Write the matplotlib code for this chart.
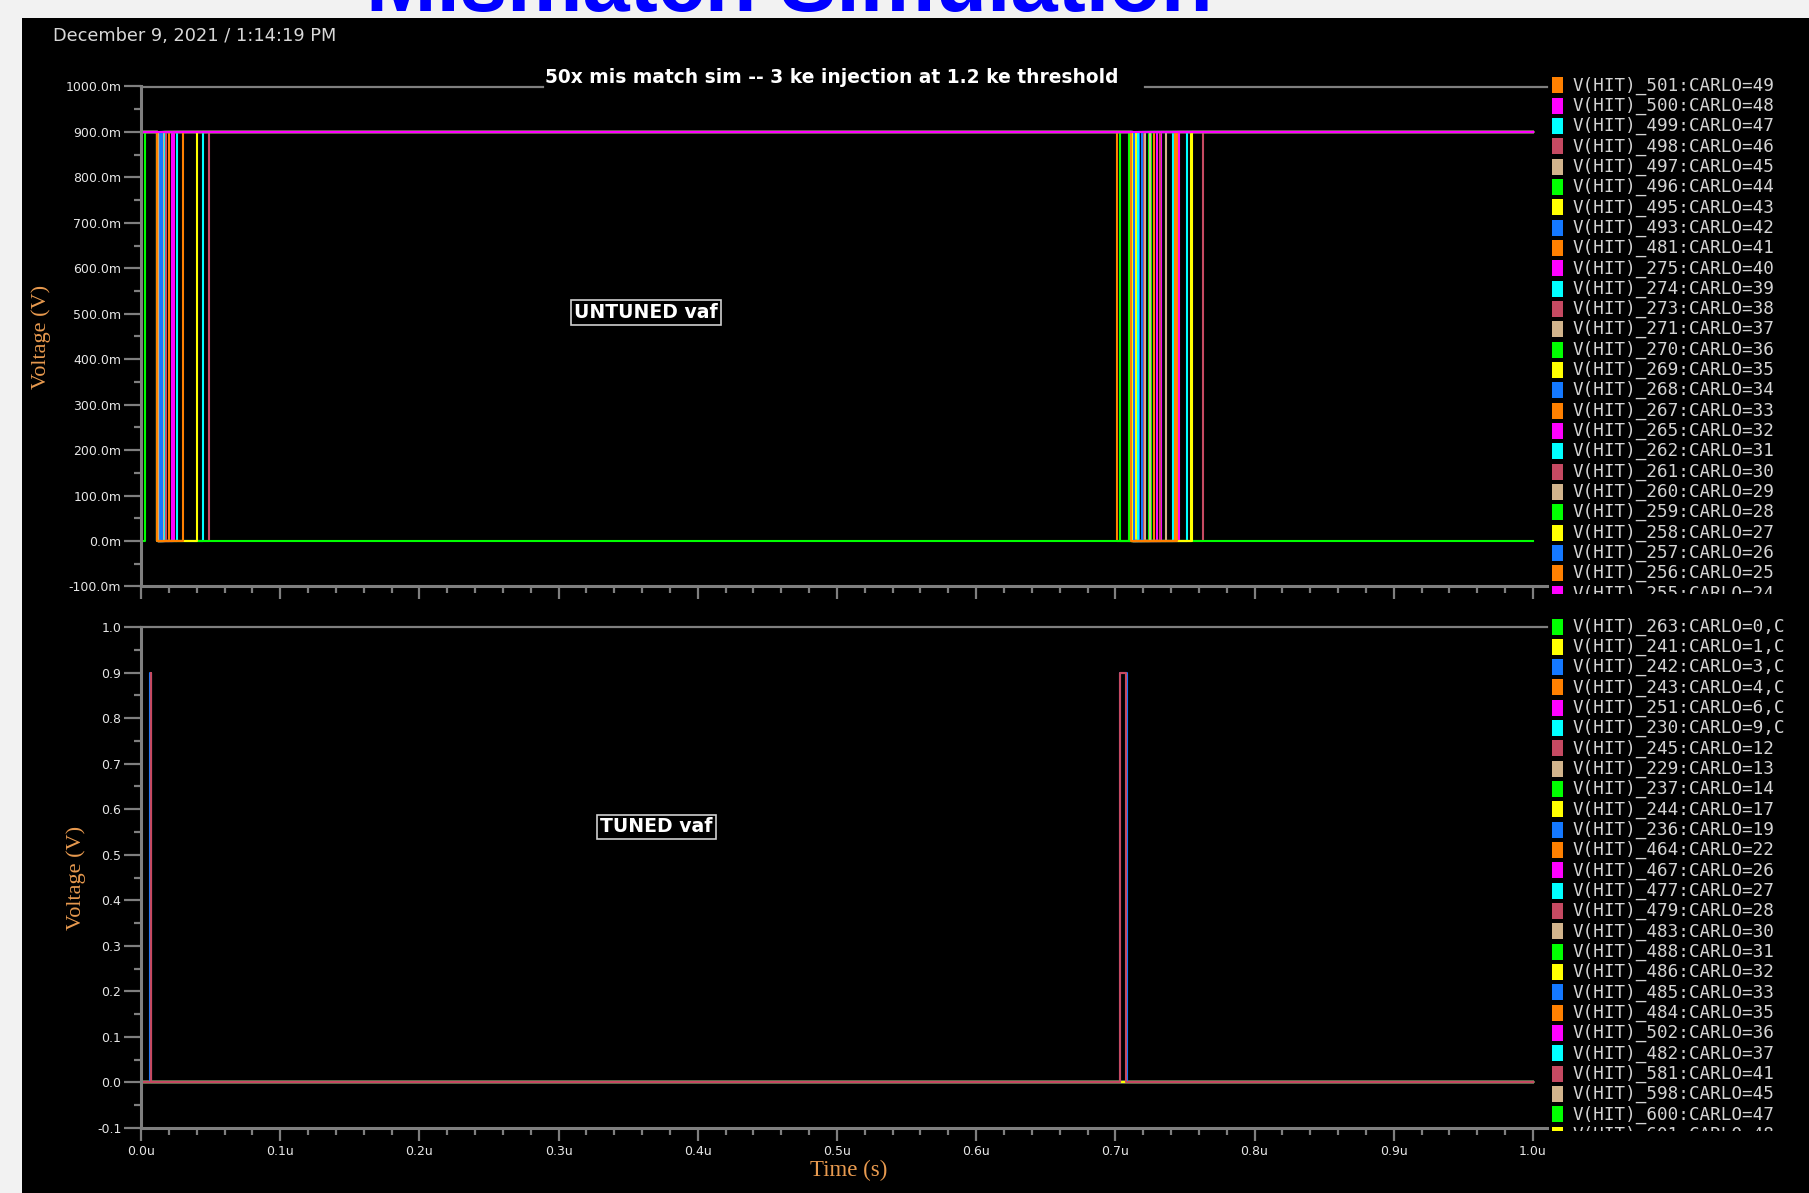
import matplotlib.pyplot as plt
from matplotlib.patches import Rectangle
from matplotlib.transforms import Bbox, TransformedBbox
from matplotlib.ticker import MultipleLocator, FuncFormatter

W, H = 1809, 1193
DPI = 100

# HIT output logic levels (V)
V_LO, V_HI = 0.0, 0.9

# trace colours, in the order the simulator cycles through them
palette = ['#00ff00', '#ffff00', '#1478ff', '#ff8000',
           '#ff00ff', '#00ffff', '#c64a62', '#d2b48c']

# --- untuned vaf: 50 Monte Carlo runs (only the listed ones are shown) ---
untuned_names = [
    'V(HIT)_501:CARLO=49', 'V(HIT)_500:CARLO=48', 'V(HIT)_499:CARLO=47',
    'V(HIT)_498:CARLO=46', 'V(HIT)_497:CARLO=45', 'V(HIT)_496:CARLO=44',
    'V(HIT)_495:CARLO=43', 'V(HIT)_493:CARLO=42', 'V(HIT)_481:CARLO=41',
    'V(HIT)_275:CARLO=40', 'V(HIT)_274:CARLO=39', 'V(HIT)_273:CARLO=38',
    'V(HIT)_271:CARLO=37', 'V(HIT)_270:CARLO=36', 'V(HIT)_269:CARLO=35',
    'V(HIT)_268:CARLO=34', 'V(HIT)_267:CARLO=33', 'V(HIT)_265:CARLO=32',
    'V(HIT)_262:CARLO=31', 'V(HIT)_261:CARLO=30', 'V(HIT)_260:CARLO=29',
    'V(HIT)_259:CARLO=28', 'V(HIT)_258:CARLO=27', 'V(HIT)_257:CARLO=26',
    'V(HIT)_256:CARLO=25', 'V(HIT)_255:CARLO=24',
]
untuned_start = [V_HI] * 13 + [V_LO] + [V_HI] * 12
# switching edges of each run (us)
untuned_edges = [
    [0.0118, 0.0201, 0.7110, 0.7277],
    [0.0120, 0.0223, 0.7125, 0.7300],
    [0.0122, 0.0259, 0.7130, 0.7414],
    [0.0120, 0.0489, 0.7120, 0.7630],
    [0.0125, 0.0150, 0.7115, 0.7213],
    [0.0118, 0.0158, 0.7100, 0.7256],
    [0.0121, 0.0165, 0.7112, 0.7150],
    [0.0119, 0.0140, 0.7130, 0.7190],
    [0.0123, 0.0160, 0.7010, 0.7130],
    [0.0120, 0.0237, 0.7118, 0.7330],
    [0.0121, 0.0445, 0.7122, 0.7514],
    [0.0119, 0.0170, 0.7118, 0.7200],
    [0.0124, 0.0145, 0.7120, 0.7363],
    [0.0029, 0.7033, 0.7240],
    [0.0120, 0.0172, 0.7115, 0.7540],
    [0.0118, 0.0135, 0.7128, 0.7170],
    [0.0122, 0.0168, 0.7125, 0.7430],
    [0.0121, 0.0230, 0.7120, 0.7460],
    [0.0119, 0.0162, 0.7130, 0.7160],
    [0.0120, 0.0180, 0.7123, 0.7320],
    [0.0122, 0.0155, 0.7127, 0.7250],
    [0.0115],
    [0.0117, 0.0402, 0.7126, 0.7550],
    [0.0116, 0.0148, 0.7131, 0.7190],
    [0.0115, 0.0302, 0.7110, 0.7445],
    [],
]

# --- tuned vaf ---
tuned_names = [
    'V(HIT)_263:CARLO=0,C', 'V(HIT)_241:CARLO=1,C', 'V(HIT)_242:CARLO=3,C',
    'V(HIT)_243:CARLO=4,C', 'V(HIT)_251:CARLO=6,C', 'V(HIT)_230:CARLO=9,C',
    'V(HIT)_245:CARLO=12', 'V(HIT)_229:CARLO=13', 'V(HIT)_237:CARLO=14',
    'V(HIT)_244:CARLO=17', 'V(HIT)_236:CARLO=19', 'V(HIT)_464:CARLO=22',
    'V(HIT)_467:CARLO=26', 'V(HIT)_477:CARLO=27', 'V(HIT)_479:CARLO=28',
    'V(HIT)_483:CARLO=30', 'V(HIT)_488:CARLO=31', 'V(HIT)_486:CARLO=32',
    'V(HIT)_485:CARLO=33', 'V(HIT)_484:CARLO=35', 'V(HIT)_502:CARLO=36',
    'V(HIT)_482:CARLO=37', 'V(HIT)_581:CARLO=41', 'V(HIT)_598:CARLO=45',
    'V(HIT)_600:CARLO=47', 'V(HIT)_601:CARLO=48',
]
tuned_start = [V_LO] * 26
tuned_edges = [[] for _ in tuned_names]
tuned_edges[18] = [0.0068, 0.0071, 0.7030, 0.7085]   # 485
tuned_edges[22] = [0.0069, 0.0071, 0.7035, 0.7078]   # 581

T_END = 1.0


def step_trace(start, edges):
    t, v = [0.0], [start]
    level = start
    for e in edges:
        t.append(e)
        v.append(level)
        level = V_HI if level == V_LO else V_LO
        t.append(e)
        v.append(level)
    t.append(T_END)
    v.append(level)
    return t, v


def cycle_colors(n, offset):
    return [palette[(i + offset) % len(palette)] for i in range(n)]


untuned_colors = cycle_colors(len(untuned_names), 3)
tuned_colors = cycle_colors(len(tuned_names), 0)

plt.rcParams['font.family'] = 'DejaVu Sans'
fig = plt.figure(figsize=(W / DPI, H / DPI), dpi=DPI, facecolor='#f2f2f2')

# black plot window
fig.add_artist(Rectangle((22 / W, 0), 1 - 22 / W, 1 - 18 / H,
                         transform=fig.transFigure, facecolor='black',
                         edgecolor='none', zorder=-5))

fig.text(366 / W, 1 - 10.7 / H, 'Mismatch Simulation', fontsize=61,
         fontweight='bold', color='#0000ff', family='Liberation Sans',
         ha='left', va='baseline')
fig.text(53 / W, 1 - 36 / H, 'December 9, 2021 / 1:14:19 PM', fontsize=12.8,
         color='#d8d8d8', va='center')

ax_top = fig.add_axes([141 / W, 1 - 586.5 / H, 1406 / W, 500 / H])
ax_bot = fig.add_axes([141 / W, 1 - 1128 / H, 1406 / W, 501 / H])

GRAY = '#7f7f7f'
LABEL_ORANGE = '#e89a4f'


def style_axes(ax, ylabels, xlabels):
    ax.set_facecolor('black')
    ax.spines['top'].set_visible(False)
    ax.spines['right'].set_visible(False)
    for s in ('left', 'bottom'):
        ax.spines[s].set_color(GRAY)
        ax.spines[s].set_linewidth(2.2)
    ax.set_xlim(0, 1.0101)
    ax.set_ylim(-0.1, 1.0)
    ax.xaxis.set_major_locator(MultipleLocator(0.1))
    ax.xaxis.set_minor_locator(MultipleLocator(0.02))
    ax.yaxis.set_major_locator(MultipleLocator(0.1))
    ax.yaxis.set_minor_locator(MultipleLocator(0.05))
    ax.tick_params(axis='both', which='both', color=GRAY, width=1.6,
                   direction='out', labelcolor='#e6e6e6', labelsize=9)
    ax.tick_params(axis='y', which='major', length=12.2, pad=2)
    ax.tick_params(axis='y', which='minor', length=5)
    ax.tick_params(axis='x', which='major', length=9.5, pad=3)
    ax.tick_params(axis='x', which='minor', length=5)
    ax.yaxis.set_major_formatter(FuncFormatter(ylabels))
    if xlabels:
        ax.xaxis.set_major_formatter(
            FuncFormatter(lambda v, p: f'{round(v, 1) + 0:.1f}u'))
    else:
        ax.tick_params(axis='x', labelbottom=False)


style_axes(ax_top, lambda v, p: f'{round(v * 1000, 1) + 0:.1f}m', False)
style_axes(ax_bot, lambda v, p: f'{round(v, 1) + 0:.1f}', True)

# top border lines (the upper one is broken for the title)
ax_top.plot([0, 0.2859], [1, 1], transform=ax_top.transAxes, color=GRAY,
            lw=1.6, clip_on=False)
ax_top.plot([0.7141, 1], [1, 1], transform=ax_top.transAxes, color=GRAY,
            lw=1.6, clip_on=False)
ax_bot.plot([0, 1], [1, 1], transform=ax_bot.transAxes, color=GRAY,
            lw=1.6, clip_on=False)

ax_top.text(0.4915, 1.0176, '50x mis match sim -- 3 ke injection at 1.2 ke threshold',
            transform=ax_top.transAxes, ha='center', va='center',
            color='white', fontweight='bold', fontsize=13.4)

# traces
for i in range(len(untuned_names)):
    t, v = step_trace(untuned_start[i], untuned_edges[i])
    ax_top.plot(t, v, color=untuned_colors[i], lw=1.5)

order = sorted(range(len(tuned_names)), key=lambda i: len(tuned_edges[i]) > 0)
for i in order:
    t, v = step_trace(tuned_start[i], tuned_edges[i])
    ax_bot.plot(t, v, color=tuned_colors[i], lw=1.5)

box = dict(boxstyle='square,pad=0.15', facecolor='black', edgecolor='#cfcfcf',
           linewidth=1.2)
ax_top.text(0.3592, 0.5478, 'UNTUNED vaf', transform=ax_top.transAxes,
            ha='center', va='center', color='white', fontweight='bold',
            fontsize=13.6, bbox=box)
ax_bot.text(0.3666, 0.6008, 'TUNED vaf', transform=ax_bot.transAxes,
            ha='center', va='center', color='white', fontweight='bold',
            fontsize=13.6, bbox=box)

for ax, xl in ((ax_top, -0.0711), (ax_bot, -0.0462)):
    ax.text(xl, 0.5, 'Voltage (V)', transform=ax.transAxes, rotation=90,
            ha='center', va='center', color=LABEL_ORANGE,
            family='Liberation Serif', fontsize=16)
ax_bot.text(0.5036, -0.0838, 'Time (s)', transform=ax_bot.transAxes,
            ha='center', va='center', color=LABEL_ORANGE,
            family='Liberation Serif', fontsize=16.5)

# legends, clipped to the height of each plot
ROW = 20.33


def draw_legend(names, colors, y_first, clip_top, clip_bottom):
    clip = TransformedBbox(
        Bbox.from_extents(0, 1 - clip_bottom / H, 1, 1 - clip_top / H),
        fig.transFigure)
    for k, (name, col) in enumerate(zip(names, colors)):
        yc = y_first + k * ROW
        r = Rectangle((1552 / W, 1 - (yc + 8) / H), 11 / W, 16 / H,
                      transform=fig.transFigure, facecolor=col,
                      edgecolor='none')
        r.set_clip_box(clip)
        fig.add_artist(r)
        txt = fig.text(1573 / W, 1 - yc / H, name, family='DejaVu Sans Mono',
                       fontsize=12.7, color='#d4d4d4', va='center')
        txt.set_clip_box(clip)
        txt.set_clip_on(True)


draw_legend(untuned_names, untuned_colors, 85.4, 70, 594)
draw_legend(tuned_names, tuned_colors, 626.5, 612, 1131)

fig.savefig('out.png', dpi=DPI, facecolor=fig.get_facecolor())
